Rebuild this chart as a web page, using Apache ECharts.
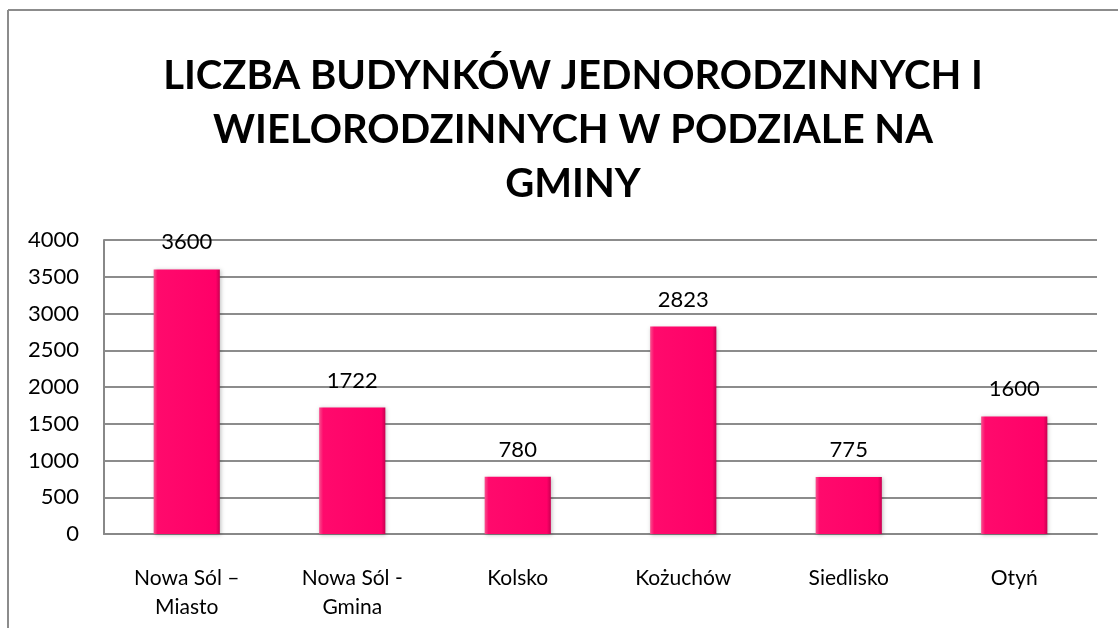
<!DOCTYPE html>
<html><head><meta charset="utf-8">
<script src="https://cdn.jsdelivr.net/npm/echarts@6/dist/echarts.min.js"></script>
<style>html,body{margin:0;padding:0;background:#fff}#c{width:1118px;height:628px}</style>
</head><body><div id="c"></div>
<script>
const titleText = 'LICZBA BUDYNKÓW JEDNORODZINNYCH I\nWIELORODZINNYCH W PODZIALE NA\nGMINY';
const categories = ['Nowa Sól –\nMiasto', 'Nowa Sól -\nGmina', 'Kolsko', 'Kożuchów', 'Siedlisko', 'Otyń'];
const values = [3600, 1722, 780, 2823, 775, 1600];
const yTicks = [0, 500, 1000, 1500, 2000, 2500, 3000, 3500, 4000];

const chart = echarts.init(document.getElementById('c'));
const font = 'Lato, "Open Sans", sans-serif';
chart.setOption({
  animation: false,
  title: {
    text: titleText, left: 568, top: 44, textAlign: 'center',
    textStyle: {fontFamily: font, fontWeight: 'bold', fontSize: 40, lineHeight: 54, color: '#000'}
  },
  graphic: [
    {type: 'line', shape: {x1: 8, y1: 10, x2: 1118, y2: 10}, style: {stroke: '#8c8c8c', lineWidth: 2}},
    {type: 'line', shape: {x1: 8, y1: 10, x2: 8, y2: 628}, style: {stroke: '#8c8c8c', lineWidth: 2}}
  ],
  grid: {left: 104, right: 21, top: 240, bottom: 94, containLabel: false},
  xAxis: {
    type: 'category', data: categories,
    axisLine: {show: true, lineStyle: {color: '#888', width: 2}},
    axisTick: {show: false},
    axisLabel: {fontFamily: font, fontSize: 21, color: '#000', margin: 30, lineHeight: 29}
  },
  yAxis: {
    type: 'value', min: yTicks[0], max: yTicks[yTicks.length - 1], interval: 500,
    axisLine: {show: true, lineStyle: {color: '#888', width: 2}},
    axisTick: {show: false},
    splitLine: {lineStyle: {color: '#8c8c8c', width: 2}},
    axisLabel: {fontFamily: font, fontSize: 22, color: '#000', margin: 25, formatter: v => String(v)}
  },
  series: [{
    type: 'bar', data: values, barWidth: '40%',
    itemStyle: {
      color: {type: 'linear', x: 0, y: 0, x2: 1, y2: 0, colorStops: [
        {offset: 0, color: '#f7508f'}, {offset: 0.06, color: '#ff0a6c'},
        {offset: 0.94, color: '#ff0068'}, {offset: 1, color: '#c80050'}]},
      shadowColor: 'rgba(0,0,0,0.25)', shadowBlur: 4, shadowOffsetX: 1, shadowOffsetY: 1
    },
    label: {show: true, position: 'top', distance: 16, fontFamily: font, fontSize: 22, color: '#000'}
  }]
});
</script></body></html>
